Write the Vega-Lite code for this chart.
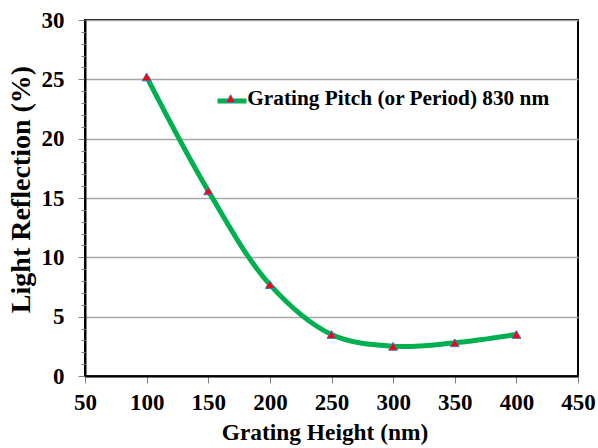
{
  "$schema": "https://vega.github.io/schema/vega-lite/v6.json",
  "width": 493,
  "height": 356,
  "autosize": {"type": "none"},
  "padding": {"left": 85, "top": 20, "right": 20, "bottom": 72},
  "background": "white",
  "config": {
    "view": {"stroke": "black", "strokeWidth": 2},
    "font": "Liberation Serif"
  },
  "data": {
    "values": [
      {"height": 100, "reflection": 25.2, "series": "Grating Pitch (or Period) 830 nm"},
      {"height": 150, "reflection": 15.6, "series": "Grating Pitch (or Period) 830 nm"},
      {"height": 200, "reflection": 7.7, "series": "Grating Pitch (or Period) 830 nm"},
      {"height": 250, "reflection": 3.5, "series": "Grating Pitch (or Period) 830 nm"},
      {"height": 300, "reflection": 2.5, "series": "Grating Pitch (or Period) 830 nm"},
      {"height": 350, "reflection": 2.8, "series": "Grating Pitch (or Period) 830 nm"},
      {"height": 400, "reflection": 3.5, "series": "Grating Pitch (or Period) 830 nm"}
    ]
  },
  "resolve": {"axis": {"y": "independent"}},
  "layer": [
    {
      "mark": {"type": "line", "interpolate": "catmull-rom", "strokeWidth": 5},
      "encoding": {
        "x": {
          "field": "height", "type": "quantitative",
          "scale": {"domain": [50, 450], "nice": false},
          "axis": {
            "values": [50, 100, 150, 200, 250, 300, 350, 400, 450],
            "title": "Grating Height (nm)",
            "titleFont": "Liberation Serif", "titleFontSize": 23.4, "titleFontWeight": "bold", "titleColor": "black",
            "titleX": 239.5, "titleY": 63, "titleBaseline": "alphabetic",
            "labelFont": "Liberation Serif", "labelFontSize": 23, "labelFontWeight": "bold", "labelColor": "black",
            "labelBaseline": "alphabetic", "labelPadding": 26, "labelFlush": false, "labelOverlap": false,
            "tickSize": 7, "tickColor": "#808080", "tickWidth": 1,
            "domainColor": "black", "domainWidth": 2,
            "grid": false
          }
        },
        "y": {
          "field": "reflection", "type": "quantitative",
          "scale": {"domain": [0, 30], "nice": false},
          "axis": {
            "orient": "left",
            "values": [0, 5, 10, 15, 20, 25, 30],
            "title": "Light Reflection (%)",
            "titleFont": "Liberation Serif", "titleFontSize": 28, "titleFontWeight": "bold", "titleColor": "black",
            "titleX": -50, "titleY": 169, "titleBaseline": "bottom",
            "labelFont": "Liberation Serif", "labelFontSize": 23, "labelFontWeight": "bold", "labelColor": "black",
            "labelPadding": 14, "labelFlush": false, "labelOverlap": false,
            "tickSize": 7, "tickColor": "#808080", "tickWidth": 1,
            "domainColor": "black", "domainWidth": 2,
            "grid": true, "gridColor": "#A6A6A6", "gridWidth": 1.5
          }
        },
        "stroke": {
          "datum": "line",
          "scale": {"range": ["#00B050"]},
          "legend": {
            "orient": "none", "legendX": 130, "legendY": 64, "title": null,
            "symbolType": "stroke", "symbolSize": 841, "symbolStrokeWidth": 5, "symbolStrokeColor": "#00B050",
            "labelExpr": "''", "padding": 0
          }
        }
      }
    },
    {
      "mark": {"type": "point", "shape": "triangle-up", "filled": true, "size": 80, "stroke": "#4472C4", "strokeWidth": 1, "opacity": 1},
      "encoding": {
        "x": {"field": "height", "type": "quantitative"},
        "y": {
          "field": "reflection", "type": "quantitative",
          "axis": {
            "orient": "left",
            "values": [1, 2, 3, 4, 6, 7, 8, 9, 11, 12, 13, 14, 16, 17, 18, 19, 21, 22, 23, 24, 26, 27, 28, 29],
            "labels": false, "domain": false, "grid": false, "title": null,
            "tickSize": 4, "tickColor": "#808080", "tickWidth": 1
          }
        },
        "fill": {
          "field": "series", "type": "nominal",
          "scale": {"range": ["#FF0000"]},
          "legend": {
            "orient": "none", "legendX": 135, "legendY": 68, "title": null,
            "symbolType": "triangle-up", "symbolSize": 80, "symbolFillColor": "#FF0000",
            "symbolStrokeColor": "#4472C4", "symbolStrokeWidth": 1, "symbolOpacity": 1,
            "labelFont": "Liberation Serif", "labelFontSize": 21.3, "labelFontWeight": "bold", "labelColor": "black",
            "labelOffset": 6, "padding": 0, "labelLimit": 400
          }
        }
      }
    }
  ]
}
